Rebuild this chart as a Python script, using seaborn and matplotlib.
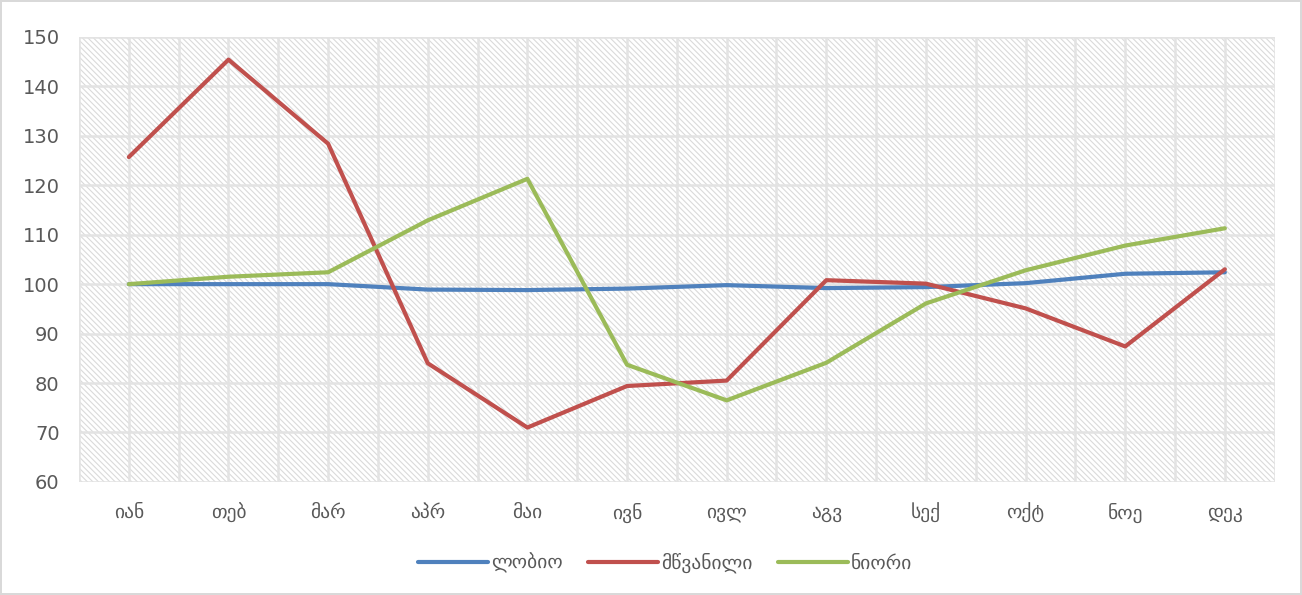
import matplotlib
matplotlib.use("Agg")
import matplotlib.pyplot as plt
import matplotlib.patches as mpatches
from matplotlib.ticker import MultipleLocator
import pandas as pd
import seaborn as sns

# month labels (Georgian) and index series
months = ["იან", "თებ", "მარ", "აპრ", "მაი", "ივნ", "ივლ", "აგვ", "სექ", "ოქტ", "ნოე", "დეკ"]
series_names = ["ლობიო", "მწვანილი", "ნიორი"]
lobio = [100.0, 100.0, 100.0, 98.9, 98.8, 99.1, 99.8, 99.2, 99.4, 100.2, 102.1, 102.4]
mtsvanili = [125.7, 145.4, 128.4, 84.0, 71.0, 79.4, 80.5, 100.8, 100.1, 95.1, 87.4, 103.0]
niori = [100.0, 101.5, 102.4, 112.9, 121.3, 83.7, 76.5, 84.1, 96.1, 102.8, 107.8, 111.3]
colors = ["#4F81BD", "#C0504D", "#9BBB59"]

df = pd.concat([
    pd.DataFrame({"month": months, "value": vals, "series": name})
    for name, vals in zip(series_names, [lobio, mtsvanili, niori])
])
df["pos"] = df["month"].map({m: i for i, m in enumerate(months)})

sns.set_theme(style="white")
plt.rcParams["font.family"] = ["DejaVu Sans"]
plt.rcParams["hatch.linewidth"] = 0.8

fig = plt.figure(figsize=(13.02, 5.95), dpi=100)
fig.patch.set_edgecolor("#D9D9D9")
fig.patch.set_linewidth(1.5)
ax = fig.add_axes([0.0607, 0.190, 0.9183, 0.748])

# hatched plot background (fine light diagonal lines)
bg = mpatches.Rectangle((0, 0), 1, 1, transform=ax.transAxes, facecolor="white",
                        edgecolor="#DADADA", hatch="\\" * 6, linewidth=0, zorder=0)
ax.add_patch(bg)

sns.lineplot(data=df, x="pos", y="value", hue="series", hue_order=series_names,
             palette=colors, linewidth=3, ax=ax, zorder=3, legend=True)

ax.set_xlim(-0.5, 11.5)
ax.set_ylim(60, 150)
ax.yaxis.set_major_locator(MultipleLocator(10))
ax.set_xticks(range(len(months)))
ax.set_xticklabels(months)
ax.xaxis.set_minor_locator(MultipleLocator(0.5))
ax.grid(True, which="major", axis="y", color="#E3E3E3", linewidth=1.8, zorder=1)
ax.grid(True, which="both", axis="x", color="#E3E3E3", linewidth=1.8, zorder=1)
ax.set_axisbelow(True)
for s in ax.spines.values():
    s.set_visible(False)
ax.tick_params(axis="y", which="both", length=0, labelsize=14, colors="#595959", pad=14)
ax.tick_params(axis="x", which="both", length=0, labelsize=14, colors="#595959", pad=15)
ax.set_xlabel("")
ax.set_ylabel("")

handles, labels = ax.get_legend_handles_labels()
ax.legend(handles, labels, loc="upper center", bbox_to_anchor=(0.49, -0.12), ncol=3,
          frameon=False, fontsize=14, labelcolor="#595959", handlelength=3.6,
          handletextpad=0.15, columnspacing=1.3)

fig.savefig("out.png", dpi=100)
